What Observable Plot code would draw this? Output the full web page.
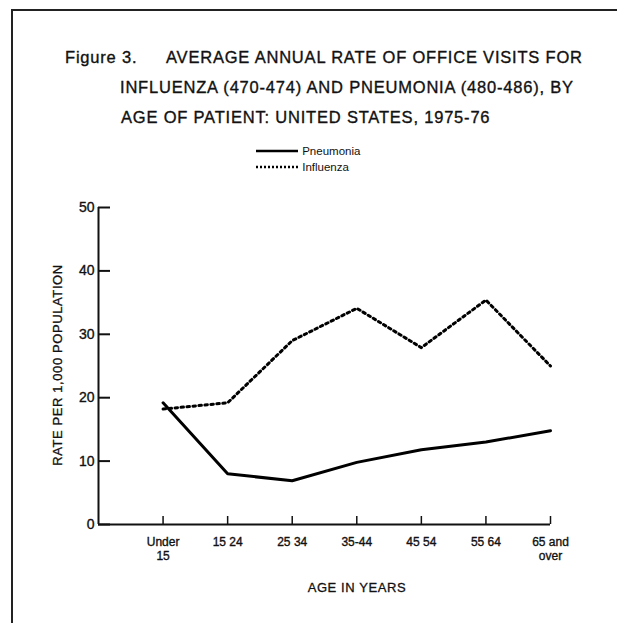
<!DOCTYPE html>
<html>
<head>
<meta charset="utf-8">
<script src="https://cdn.jsdelivr.net/npm/d3@7"></script>
<script src="https://cdn.jsdelivr.net/npm/@observablehq/plot@0.6"></script>
<style>
  html, body { margin: 0; padding: 0; background: #fff; }
  #wrap { position: relative; width: 617px; height: 623px; overflow: hidden; font-family: "Liberation Sans", Arial, sans-serif; color: #111; }
  #wrap svg.plot { position: absolute; left: 0; top: 0; }
  #wrap svg.plot text { stroke: #111; stroke-width: 0.35px; }
  .bt { position: absolute; background: #222; }
  .title { position: absolute; font-size: 16.5px; letter-spacing: 0.8px; white-space: nowrap; -webkit-text-stroke: 0.35px #111; }
  .legend { position: absolute; left: 255px; font-size: 11.5px; display: flex; align-items: center; }
  .xt { position: absolute; font-size: 13px; letter-spacing: 0.6px; white-space: nowrap; -webkit-text-stroke: 0.3px #111; }
</style>
</head>
<body>
<div id="wrap">
  <div class="bt" style="left:11px; top:9px; width:606px; height:1.5px;"></div>
  <div class="bt" style="left:11px; top:9px; width:1.5px; height:614px;"></div>
  <div class="title" style="left:65px; top:48px;">Figure 3.</div>
  <div class="title" style="left:166px; top:48px;">AVERAGE ANNUAL RATE OF OFFICE VISITS FOR</div>
  <div class="title" style="left:120px; top:78px;">INFLUENZA (470-474) AND PNEUMONIA (480-486), BY</div>
  <div class="title" style="left:121px; top:108px;">AGE OF PATIENT: UNITED STATES, 1975-76</div>
  <div class="legend" style="top:145px;"><svg width="44" height="10"><line x1="1" y1="5" x2="43" y2="5" stroke="#000" stroke-width="2.5"/></svg><span>&nbsp;Pneumonia</span></div>
  <div class="legend" style="top:161px;"><svg width="44" height="10"><line x1="1" y1="5" x2="43" y2="5" stroke="#000" stroke-width="2.5" stroke-dasharray="2,2"/></svg><span>&nbsp;Influenza</span></div>
  <div class="xt" style="left:357px; top:580px; transform:translateX(-50%);">AGE IN YEARS</div>
  <div class="xt" style="left:57px; top:365px; transform:translate(-50%,-50%) rotate(-90deg);">RATE PER 1,000 POPULATION</div>
</div>
<script>
const ages = ["Under\n15", "15 24", "25 34", "35-44", "45 54", "55 64", "65 and\nover"];
const pneumonia = [19.2, 8.0, 6.9, 9.8, 11.8, 13.0, 14.8];
const influenza = [18.2, 19.2, 29.0, 34.1, 27.9, 35.4, 25.0];
const yTicks = [0, 10, 20, 30, 40, 50];

const idx = ages.map((a, i) => i);
const pData = ages.map((a, i) => ({i, v: pneumonia[i]}));
const fData = ages.map((a, i) => ({i, v: influenza[i]}));

const chart = Plot.plot({
  width: 617,
  height: 623,
  marginLeft: 98,
  marginRight: 67,
  marginTop: 207,
  marginBottom: 99,
  style: {background: "transparent", fontFamily: "Liberation Sans, Arial, sans-serif", color: "#111"},
  x: {domain: [-1, 6], axis: null},
  y: {domain: [0, 50], axis: null},
  marks: [
    Plot.axisY(yTicks, {tickSize: 0, tickPadding: 4, fontSize: 14, label: null}),
    Plot.axisX(idx, {tickSize: 0, tickPadding: 12, fontSize: 12, lineHeight: 1.15, tickFormat: i => ages[i], label: null}),
    Plot.tickY(yTicks, {y: d => d, insetRight: 440, stroke: "#111", strokeWidth: 2}),
    Plot.tickX(idx, {x: d => d, insetTop: 309, stroke: "#111", strokeWidth: 1.5}),
    Plot.ruleX([-1], {stroke: "#111", strokeWidth: 2}),
    Plot.ruleY([0], {stroke: "#111", strokeWidth: 2}),
    Plot.line(fData, {x: "i", y: "v", stroke: "#000", strokeWidth: 3, strokeDasharray: "2.5,3.5"}),
    Plot.line(pData, {x: "i", y: "v", stroke: "#000", strokeWidth: 3})
  ]
});
chart.classList.add("plot");
document.getElementById("wrap").prepend(chart);
</script>
</body>
</html>
